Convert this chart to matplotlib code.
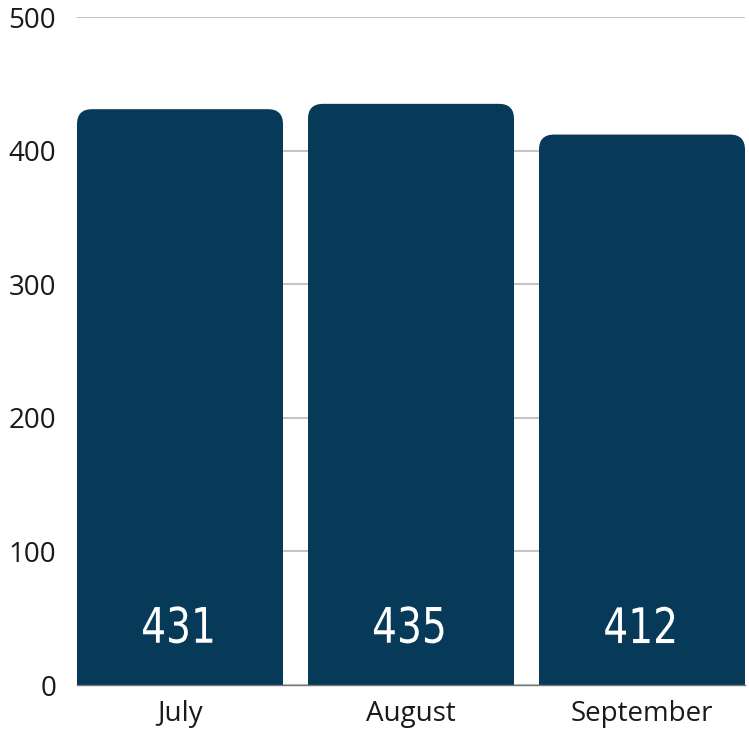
import numpy as np
import matplotlib.pyplot as plt
from matplotlib.patches import FancyBboxPatch, PathPatch
from matplotlib.textpath import TextPath
from matplotlib.font_manager import FontProperties
from matplotlib.transforms import Affine2D, ScaledTranslation

months = ["July", "August", "September"]
counts = [431, 435, 412]
y_ticks = [0, 100, 200, 300, 400, 500]

bar_color = "#063a58"
W, H = 749, 733

fig = plt.figure(figsize=(W / 100, H / 100), dpi=100)
ax = fig.add_axes([77 / W, 1 - 685 / H, (745 - 77) / W, (685 - 17) / H])

x = np.arange(len(months))
width = 206 / 231
bars = ax.bar(x, counts, width=width, color=bar_color, zorder=2)

ax.set_xlim(-width / 2, len(months) - 1 + width / 2)
ax.set_ylim(0, 500)

# swap the plain rectangles for ones with rounded tops
r = 0.065
aspect = (500 / 668) / (1 / 231)
for b in bars:
    b.set_visible(False)
    p = FancyBboxPatch((b.get_x(), -40), b.get_width(), b.get_height() + 40,
                       boxstyle="round,pad=0,rounding_size=%f" % r,
                       mutation_aspect=aspect, facecolor=bar_color,
                       edgecolor="none", zorder=2)
    ax.add_patch(p)

# value labels: no condensed font installed, so squeeze a text path
fp = FontProperties(family="DejaVu Sans")
for xi, c in zip(x, counts):
    tp = TextPath((0, 0), str(c), size=49, prop=fp)
    ext = tp.get_extents()
    tr = (Affine2D().translate(-(ext.x0 + ext.x1) / 2, -(ext.y0 + ext.y1) / 2)
          .scale(0.8, 1.0)
          + ScaledTranslation(xi - 0.01, 45, ax.transData))
    ax.add_patch(PathPatch(tp, transform=tr, facecolor="white",
                           edgecolor="none", zorder=3, clip_on=False))

ax.set_yticks(y_ticks)
ax.set_xticks(x)
ax.set_xticklabels(months)
ax.tick_params(axis="both", length=0, labelsize=20, colors="#1a1a1a")
ax.tick_params(axis="y", pad=15)
ax.tick_params(axis="x", pad=11)
for lbl in ax.get_yticklabels() + ax.get_xticklabels():
    lbl.set_family("Open Sans")

ax.grid(axis="y", color="#c4c4c4", linewidth=1.5, zorder=0)
for s in ["top", "right", "left"]:
    ax.spines[s].set_visible(False)
ax.spines["bottom"].set_color("#777777")
ax.spines["bottom"].set_linewidth(1)

plt.savefig("out.png", dpi=100)
plt.close()
